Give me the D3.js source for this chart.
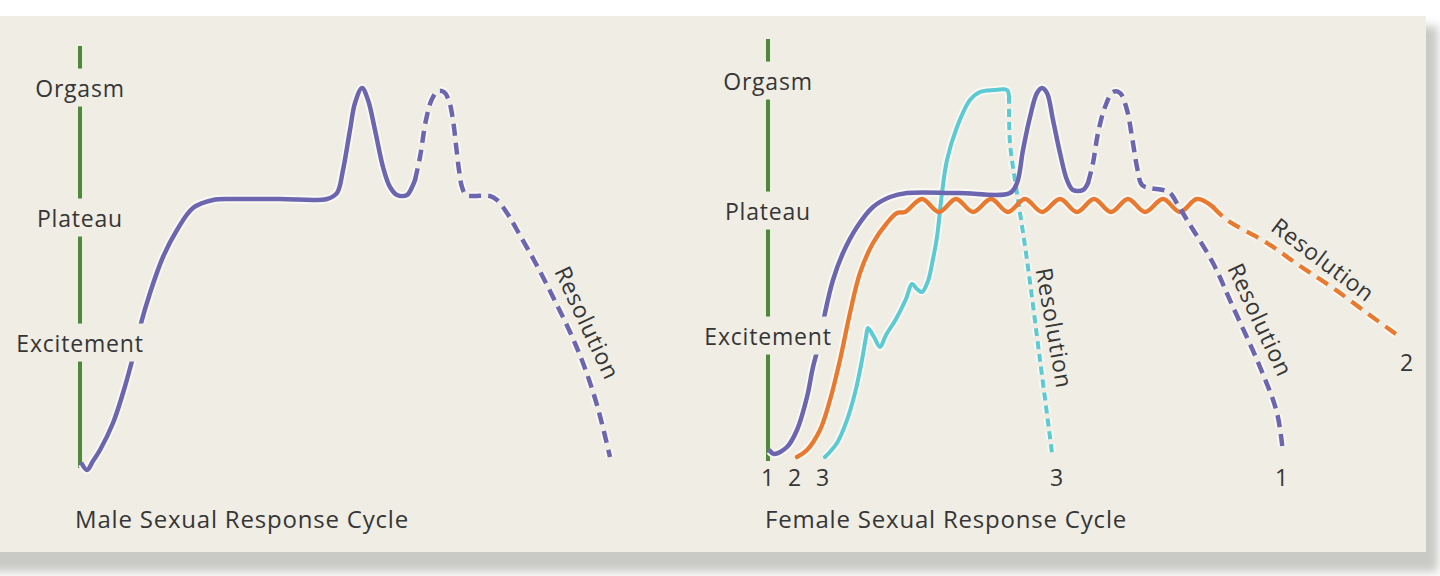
<!DOCTYPE html>
<html>
<head>
<meta charset="utf-8">
<script src="https://cdn.jsdelivr.net/npm/d3@7"></script>
<style>
  body { margin: 0; background: #fff; }
  svg { display: block; }
  text { font-family: "Open Sans", "Liberation Sans", sans-serif; fill: #363636; font-weight: 500; letter-spacing: 0.8px; }
</style>
</head>
<body>
<svg id="cycle" width="1440" height="576"></svg>
<script>
// arousal levels marked on the vertical axis
const levelNames = ["Excitement", "Plateau", "Orgasm"];
const levelValues = [12.5, 25, 38];
const axisExtent = [0, 42.2];

// male cycle, [time, arousal]
const maleSolid = [[0.2,0.4],[0.7,-0.2],[1.3,0.7],[2.0,1.8],[3.3,4.5],[4.3,7.5],[5.3,11.1],[6.0,14.1],[7.0,17.5],[8.3,21.1],[9.7,23.8],[11.3,26.0],[13.3,26.8],[15.3,26.9],[20.0,26.9],[24.7,26.9],[25.7,27.5],[26.3,29.8],[27.0,33.8],[27.5,36.5],[28.2,38.0],[28.8,36.8],[29.5,33.8],[30.3,30.1],[31.0,28.1],[31.7,27.3],[32.7,27.3],[33.3,28.3],[33.5,28.8]];
const maleDashed = [[33.5,28.8],[34.0,31.1],[34.6,34.8],[35.2,36.9],[35.8,37.7],[36.4,37.6],[36.9,36.7],[37.3,34.8],[37.6,32.3],[37.9,29.8],[38.2,28.1],[38.6,27.3],[39.3,27.2],[41.0,27.2],[41.7,26.8],[42.7,25.5],[43.7,23.8],[45.5,20.6],[47.3,17.1],[49.0,13.6],[50.3,10.5],[51.7,6.3],[53.0,1.1]];

// female cycle, pattern 1 (purple)
const female1Solid = [[0.2,1.0],[0.6,0.7],[1.9,1.4],[2.9,3.1],[3.9,6.4],[4.5,9.4],[5.2,12.1],[5.7,14.8],[6.5,18.1],[7.5,20.8],[8.9,23.4],[10.5,25.4],[12.2,26.4],[13.9,26.8],[19.0,26.8],[24.2,26.8],[24.9,27.8],[25.5,31.1],[26.2,34.4],[26.9,36.8],[27.4,37.3],[27.9,36.8],[28.5,34.1],[29.2,30.8],[29.9,28.1],[30.5,27.1],[31.5,27.1],[32.0,27.8]];
const female1Dashed = [[32.0,27.8],[32.5,29.8],[33.0,32.8],[33.7,35.4],[34.5,36.9],[35.2,36.8],[35.9,35.1],[36.4,32.4],[36.9,29.4],[37.4,27.6],[38.2,27.3],[39.5,27.1],[40.2,26.8],[41.0,25.6],[41.9,24.1],[44.5,19.8],[46.5,15.4],[49.2,9.4],[50.9,4.8],[51.5,0.8]];

// pattern 2 (orange), wavy plateau with no orgasm
const female2Solid = [[2.9,0.4],[3.9,1.1],[5.2,3.1],[6.2,6.1],[7.2,10.1],[8.2,14.8],[9.2,18.8],[10.5,21.8],[11.9,23.8],[12.9,24.8],[13.7,24.9],[15.4,26.2],[17.1,24.9],[18.8,26.2],[20.5,24.9],[22.3,26.2],[24.0,24.9],[25.7,26.2],[27.4,24.9],[29.2,26.2],[30.9,24.9],[32.6,26.2],[34.3,24.9],[36.0,26.2],[37.7,24.9],[39.5,26.2],[41.2,24.9],[42.9,26.2],[44.5,25.4]];
const female2Dashed = [[44.5,25.4],[45.9,24.1],[49.9,21.8],[53.2,19.5],[56.5,17.3],[59.9,14.8],[63.2,12.4]];

// pattern 3 (cyan), jagged rise straight to orgasm
const female3Solid = [[5.7,0.4],[6.9,1.8],[7.9,4.1],[8.7,6.8],[9.4,10.1],[9.8,12.4],[10.0,13.3],[10.6,12.4],[11.2,11.4],[11.8,12.6],[12.8,14.2],[13.8,16.2],[14.4,17.7],[14.9,17.2],[15.4,16.9],[16.0,18.0],[16.5,20.2],[16.9,22.4],[17.4,26.8],[17.9,30.1],[18.9,33.4],[20.2,36.1],[21.2,36.9],[22.6,37.1],[23.9,37.1],[24.1,36.5]];
const female3Dashed = [[24.1,36.5],[24.2,31.8],[24.9,26.8],[25.9,20.1],[27.2,10.1],[28.4,0.8]];

// "Resolution" annotations [panel, time, arousal, angle]
const resolutionLabels = [["male",50.7,14.5,65],["female",28.6,13.3,80],["female",49.2,14.1,65],["female",55.5,20.1,37]];
// pattern numbers at the ends of the female curves
const endLabels = [["1",0,-1.7],["2",2.7,-1.7],["3",5.5,-1.7],["3",28.9,-1.7],["1",51.4,-1.7],["2",63.9,9.8]];

const titles = ["Male Sexual Response Cycle", "Female Sexual Response Cycle"];

const panelFill = "#efede4";
const purple = "#6b66af", orange = "#e9792f", cyan = "#5ccad2", green = "#4c8a3a";

let svg = d3.select("#cycle");

// card with a soft grey shadow below it
let defs = svg.append("defs");
defs.append("filter").attr("id", "soft")
  .attr("x", "-5%").attr("y", "-5%").attr("width", "110%").attr("height", "120%")
  .append("feGaussianBlur").attr("stdDeviation", 5);

svg.append("rect")
  .attr("x", -20).attr("y", 26).attr("width", 1458).attr("height", 546)
  .attr("fill", "#c9c9c6").attr("filter", "url(#soft)");
svg.append("rect")
  .attr("x", -10).attr("y", 16).attr("width", 1436).attr("height", 536)
  .attr("fill", panelFill);

let panels = {
  male: {
    x: d3.scaleLinear().domain([0, 54]).range([80, 620]),
    y: d3.scaleLinear().domain([0, 38]).range([468, 88]),
    series: [
      {data: maleSolid, color: purple, width: 4.5},
      {data: maleDashed, color: purple, width: 4.5, dash: "12,7"}
    ],
    title: titles[0], titleX: 75, titleY: 528
  },
  female: {
    x: d3.scaleLinear().domain([0, 64]).range([768, 1408]),
    y: d3.scaleLinear().domain([0, 38]).range([461, 81]),
    series: [
      {data: female3Solid, color: cyan, width: 4},
      {data: female3Dashed, color: cyan, width: 4, dash: "8,5"},
      {data: female2Solid, color: orange, width: 4.3},
      {data: female2Dashed, color: orange, width: 4.3, dash: "13,8"},
      {data: female1Solid, color: purple, width: 4.5},
      {data: female1Dashed, color: purple, width: 4.5, dash: "12,7"}
    ],
    title: titles[1], titleX: 765, titleY: 528
  }
};

let drawPanel = function(p, key) {
  let g = svg.append("g").attr("id", key);

  // green vertical axis line
  g.append("line")
    .attr("x1", p.x(0)).attr("x2", p.x(0))
    .attr("y1", p.y(axisExtent[0])).attr("y2", p.y(axisExtent[1]))
    .attr("stroke", green).attr("stroke-width", 4);

  let line = d3.line()
    .x(d => p.x(d[0]))
    .y(d => p.y(d[1]))
    .curve(d3.curveCatmullRom.alpha(0.5));

  // light halo first, then the coloured stroke
  p.series.forEach(s => {
    g.append("path")
      .attr("d", line(s.data))
      .attr("fill", "none")
      .attr("stroke", "#f9f8f3")
      .attr("stroke-width", s.width + 4)
      .attr("stroke-dasharray", s.dash || null)
      .attr("stroke-linejoin", "round");
  });
  p.series.forEach(s => {
    g.append("path")
      .attr("d", line(s.data))
      .attr("fill", "none")
      .attr("stroke", s.color)
      .attr("stroke-width", s.width)
      .attr("stroke-dasharray", s.dash || null)
      .attr("stroke-linecap", s.dash ? "butt" : "round")
      .attr("stroke-linejoin", "round");
  });

  // level names sit on the axis, knocking it out behind them
  let axis = d3.axisRight(p.y)
    .tickValues(levelValues)
    .tickFormat((d, i) => levelNames[i])
    .tickSize(0)
    .tickPadding(0);
  let ag = g.append("g")
    .attr("transform", "translate(" + p.x(0) + ",0)")
    .call(axis)
    .attr("font-size", null).attr("font-family", null);
  ag.select(".domain").remove();
  ag.selectAll(".tick text")
    .attr("x", 0).attr("dy", "0.35em")
    .attr("text-anchor", "middle")
    .style("font-size", "23px")
    .attr("fill", null);
  ag.selectAll(".tick").each(function() {
    let t = d3.select(this).select("text");
    let b = t.node().getBBox();
    d3.select(this).insert("rect", "text")
      .attr("x", b.x - 4).attr("y", b.y - 3)
      .attr("width", b.width + 8).attr("height", b.height + 6)
      .attr("fill", panelFill);
  });

  g.append("text")
    .attr("x", p.titleX).attr("y", p.titleY)
    .style("font-size", "24px")
    .text(p.title);
};

drawPanel(panels.male, "male");
drawPanel(panels.female, "female");

resolutionLabels.forEach(d => {
  let p = panels[d[0]];
  svg.append("text")
    .attr("transform", "translate(" + p.x(d[1]) + "," + p.y(d[2]) + ") rotate(" + d[3] + ")")
    .attr("text-anchor", "middle").attr("dy", "0.35em")
    .style("font-size", "23px")
    .text("Resolution");
});

endLabels.forEach(d => {
  let p = panels.female;
  svg.append("text")
    .attr("x", p.x(d[1])).attr("y", p.y(d[2]))
    .attr("text-anchor", "middle").attr("dy", "0.35em")
    .style("font-size", "23px")
    .text(d[0]);
});
</script>
</body>
</html>
